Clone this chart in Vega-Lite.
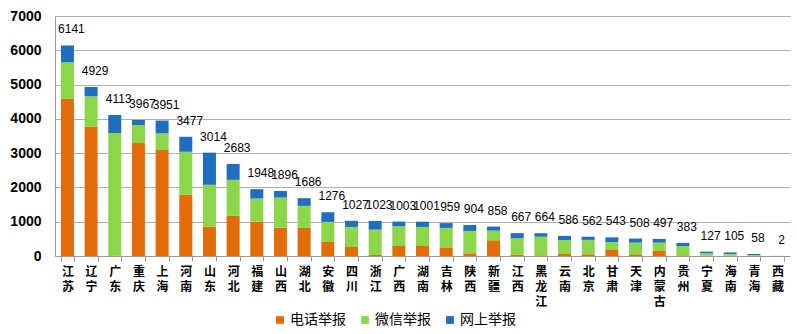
{
  "$schema": "https://vega.github.io/schema/vega-lite/v6.json",
  "width": 735,
  "height": 240,
  "autosize": {"type": "pad"},
  "padding": {"left": 9, "top": 9, "right": 4, "bottom": 2},
  "background": "white",
  "config": {"view": {"stroke": null}, "font": "Noto Sans CJK SC"},
  "datasets": {
    "segments": [
      {"province": "江苏", "type": "电话举报", "k": 1, "value": 4580},
      {"province": "江苏", "type": "微信举报", "k": 2, "value": 1070},
      {"province": "江苏", "type": "网上举报", "k": 3, "value": 491},
      {"province": "辽宁", "type": "电话举报", "k": 1, "value": 3770},
      {"province": "辽宁", "type": "微信举报", "k": 2, "value": 890},
      {"province": "辽宁", "type": "网上举报", "k": 3, "value": 269},
      {"province": "广东", "type": "电话举报", "k": 1, "value": 10},
      {"province": "广东", "type": "微信举报", "k": 2, "value": 3577},
      {"province": "广东", "type": "网上举报", "k": 3, "value": 526},
      {"province": "重庆", "type": "电话举报", "k": 1, "value": 3294},
      {"province": "重庆", "type": "微信举报", "k": 2, "value": 527},
      {"province": "重庆", "type": "网上举报", "k": 3, "value": 146},
      {"province": "上海", "type": "电话举报", "k": 1, "value": 3090},
      {"province": "上海", "type": "微信举报", "k": 2, "value": 487},
      {"province": "上海", "type": "网上举报", "k": 3, "value": 374},
      {"province": "河南", "type": "电话举报", "k": 1, "value": 1784},
      {"province": "河南", "type": "微信举报", "k": 2, "value": 1257},
      {"province": "河南", "type": "网上举报", "k": 3, "value": 436},
      {"province": "山东", "type": "电话举报", "k": 1, "value": 858},
      {"province": "山东", "type": "微信举报", "k": 2, "value": 1218},
      {"province": "山东", "type": "网上举报", "k": 3, "value": 938},
      {"province": "河北", "type": "电话举报", "k": 1, "value": 1170},
      {"province": "河北", "type": "微信举报", "k": 2, "value": 1052},
      {"province": "河北", "type": "网上举报", "k": 3, "value": 461},
      {"province": "福建", "type": "电话举报", "k": 1, "value": 1004},
      {"province": "福建", "type": "微信举报", "k": 2, "value": 672},
      {"province": "福建", "type": "网上举报", "k": 3, "value": 272},
      {"province": "山西", "type": "电话举报", "k": 1, "value": 828},
      {"province": "山西", "type": "微信举报", "k": 2, "value": 878},
      {"province": "山西", "type": "网上举报", "k": 3, "value": 190},
      {"province": "湖北", "type": "电话举报", "k": 1, "value": 819},
      {"province": "湖北", "type": "微信举报", "k": 2, "value": 643},
      {"province": "湖北", "type": "网上举报", "k": 3, "value": 224},
      {"province": "安徽", "type": "电话举报", "k": 1, "value": 409},
      {"province": "安徽", "type": "微信举报", "k": 2, "value": 585},
      {"province": "安徽", "type": "网上举报", "k": 3, "value": 282},
      {"province": "四川", "type": "电话举报", "k": 1, "value": 263},
      {"province": "四川", "type": "微信举报", "k": 2, "value": 585},
      {"province": "四川", "type": "网上举报", "k": 3, "value": 179},
      {"province": "浙江", "type": "电话举报", "k": 1, "value": 30},
      {"province": "浙江", "type": "微信举报", "k": 2, "value": 740},
      {"province": "浙江", "type": "网上举报", "k": 3, "value": 253},
      {"province": "广西", "type": "电话举报", "k": 1, "value": 292},
      {"province": "广西", "type": "微信举报", "k": 2, "value": 575},
      {"province": "广西", "type": "网上举报", "k": 3, "value": 136},
      {"province": "湖南", "type": "电话举报", "k": 1, "value": 312},
      {"province": "湖南", "type": "微信举报", "k": 2, "value": 536},
      {"province": "湖南", "type": "网上举报", "k": 3, "value": 153},
      {"province": "吉林", "type": "电话举报", "k": 1, "value": 253},
      {"province": "吉林", "type": "微信举报", "k": 2, "value": 566},
      {"province": "吉林", "type": "网上举报", "k": 3, "value": 140},
      {"province": "陕西", "type": "电话举报", "k": 1, "value": 78},
      {"province": "陕西", "type": "微信举报", "k": 2, "value": 653},
      {"province": "陕西", "type": "网上举报", "k": 3, "value": 173},
      {"province": "新疆", "type": "电话举报", "k": 1, "value": 458},
      {"province": "新疆", "type": "微信举报", "k": 2, "value": 283},
      {"province": "新疆", "type": "网上举报", "k": 3, "value": 117},
      {"province": "江西", "type": "电话举报", "k": 1, "value": 40},
      {"province": "江西", "type": "微信举报", "k": 2, "value": 477},
      {"province": "江西", "type": "网上举报", "k": 3, "value": 150},
      {"province": "黑龙江", "type": "电话举报", "k": 1, "value": 20},
      {"province": "黑龙江", "type": "微信举报", "k": 2, "value": 545},
      {"province": "黑龙江", "type": "网上举报", "k": 3, "value": 99},
      {"province": "云南", "type": "电话举报", "k": 1, "value": 58},
      {"province": "云南", "type": "微信举报", "k": 2, "value": 410},
      {"province": "云南", "type": "网上举报", "k": 3, "value": 118},
      {"province": "北京", "type": "电话举报", "k": 1, "value": 50},
      {"province": "北京", "type": "微信举报", "k": 2, "value": 420},
      {"province": "北京", "type": "网上举报", "k": 3, "value": 92},
      {"province": "甘肃", "type": "电话举报", "k": 1, "value": 175},
      {"province": "甘肃", "type": "微信举报", "k": 2, "value": 234},
      {"province": "甘肃", "type": "网上举报", "k": 3, "value": 134},
      {"province": "天津", "type": "电话举报", "k": 1, "value": 49},
      {"province": "天津", "type": "微信举报", "k": 2, "value": 341},
      {"province": "天津", "type": "网上举报", "k": 3, "value": 118},
      {"province": "内蒙古", "type": "电话举报", "k": 1, "value": 146},
      {"province": "内蒙古", "type": "微信举报", "k": 2, "value": 244},
      {"province": "内蒙古", "type": "网上举报", "k": 3, "value": 107},
      {"province": "贵州", "type": "电话举报", "k": 1, "value": 20},
      {"province": "贵州", "type": "微信举报", "k": 2, "value": 272},
      {"province": "贵州", "type": "网上举报", "k": 3, "value": 91},
      {"province": "宁夏", "type": "电话举报", "k": 1, "value": 10},
      {"province": "宁夏", "type": "微信举报", "k": 2, "value": 70},
      {"province": "宁夏", "type": "网上举报", "k": 3, "value": 47},
      {"province": "海南", "type": "电话举报", "k": 1, "value": 10},
      {"province": "海南", "type": "微信举报", "k": 2, "value": 50},
      {"province": "海南", "type": "网上举报", "k": 3, "value": 45},
      {"province": "青海", "type": "电话举报", "k": 1, "value": 5},
      {"province": "青海", "type": "微信举报", "k": 2, "value": 20},
      {"province": "青海", "type": "网上举报", "k": 3, "value": 33},
      {"province": "西藏", "type": "电话举报", "k": 1, "value": 0},
      {"province": "西藏", "type": "微信举报", "k": 2, "value": 0},
      {"province": "西藏", "type": "网上举报", "k": 3, "value": 2}
    ],
    "totals": [
      {"province": "江苏", "total": 6141},
      {"province": "辽宁", "total": 4929},
      {"province": "广东", "total": 4113},
      {"province": "重庆", "total": 3967},
      {"province": "上海", "total": 3951},
      {"province": "河南", "total": 3477},
      {"province": "山东", "total": 3014},
      {"province": "河北", "total": 2683},
      {"province": "福建", "total": 1948},
      {"province": "山西", "total": 1896},
      {"province": "湖北", "total": 1686},
      {"province": "安徽", "total": 1276},
      {"province": "四川", "total": 1027},
      {"province": "浙江", "total": 1023},
      {"province": "广西", "total": 1003},
      {"province": "湖南", "total": 1001},
      {"province": "吉林", "total": 959},
      {"province": "陕西", "total": 904},
      {"province": "新疆", "total": 858},
      {"province": "江西", "total": 667},
      {"province": "黑龙江", "total": 664},
      {"province": "云南", "total": 586},
      {"province": "北京", "total": 562},
      {"province": "甘肃", "total": 543},
      {"province": "天津", "total": 508},
      {"province": "内蒙古", "total": 497},
      {"province": "贵州", "total": 383},
      {"province": "宁夏", "total": 127},
      {"province": "海南", "total": 105},
      {"province": "青海", "total": 58},
      {"province": "西藏", "total": 2}
    ]
  },
  "encoding": {
    "x": {
      "field": "province",
      "type": "nominal",
      "sort": null,
      "scale": {"paddingInner": 0.45, "paddingOuter": 0.25},
      "axis": {
        "title": null,
        "labelAngle": 0,
        "labelExpr": "split(datum.label, '')",
        "labelFont": "Noto Sans CJK SC",
        "labelFontWeight": "bold",
        "labelFontSize": 12,
        "labelLineHeight": 15,
        "labelColor": "#000000",
        "labelPadding": 5,
        "labelOverlap": false,
        "tickColor": "#999999",
        "tickSize": 5,
        "tickBand": "extent",
        "domainColor": "#999999"
      }
    }
  },
  "layer": [
    {
      "data": {"name": "segments"},
      "mark": {"type": "bar", "size": 13},
      "encoding": {
        "y": {
          "field": "value",
          "type": "quantitative",
          "stack": "zero",
          "scale": {"domain": [0, 7000], "nice": false},
          "axis": {
            "title": null,
            "values": [0, 1000, 2000, 3000, 4000, 5000, 6000, 7000],
            "format": "d",
            "labelOverlap": false,
            "labelFont": "Liberation Sans",
            "labelFontWeight": "bold",
            "labelFontSize": 14,
            "labelColor": "#000000",
            "labelPadding": 14,
            "gridColor": "#b0b0b0",
            "ticks": false,
            "domainColor": "#999999"
          }
        },
        "order": {"field": "k", "type": "quantitative"},
        "color": {
          "field": "type",
          "type": "nominal",
          "scale": {
            "domain": ["电话举报", "微信举报", "网上举报"],
            "range": ["#E36C0A", "#8BD64B", "#1F6EBF"]
          },
          "legend": {
            "orient": "none",
            "legendX": 218,
            "legendY": 297,
            "direction": "horizontal",
            "title": null,
            "symbolType": "square",
            "symbolSize": 60,
            "symbolStrokeWidth": 0,
            "labelFont": "Noto Sans CJK SC",
            "labelFontSize": 14,
            "labelColor": "#000000",
            "labelOffset": 3,
            "columnPadding": 12
          }
        }
      }
    },
    {
      "data": {"name": "totals"},
      "mark": {"type": "text", "dy": -16, "dx": 4, "font": "Liberation Sans", "fontSize": 12, "color": "#000000"},
      "encoding": {
        "y": {
          "field": "total",
          "type": "quantitative",
          "axis": {
            "title": null,
            "values": [0, 1000, 2000, 3000, 4000, 5000, 6000, 7000],
            "format": "d",
            "labelOverlap": false,
            "labelFont": "Liberation Sans",
            "labelFontWeight": "bold",
            "labelFontSize": 14,
            "labelColor": "#000000",
            "labelPadding": 14,
            "gridColor": "#b0b0b0",
            "ticks": false,
            "domainColor": "#999999"
          }
        },
        "text": {"field": "total", "type": "quantitative", "format": "d"}
      }
    }
  ]
}
